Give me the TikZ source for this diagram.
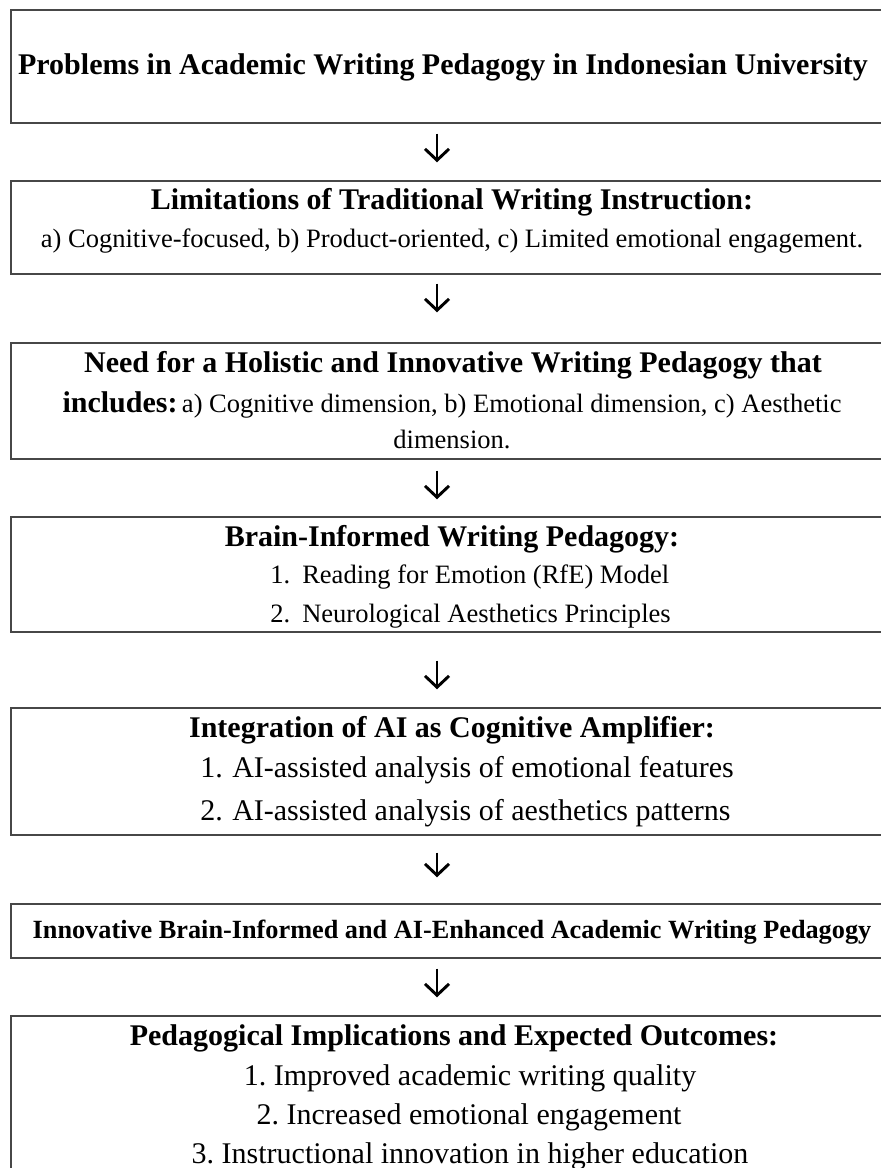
\documentclass[tikz,border=0pt]{standalone}
\usepackage{fontspec}
\setmainfont{Liberation Serif}
\usetikzlibrary{arrows.meta}
\newcommand{\bigb}{\fontsize{22.5}{27}\selectfont\bfseries}
\newcommand{\midr}{\fontsize{19.9}{24}\selectfont}
\newcommand{\larr}{\fontsize{22.5}{27}\selectfont}
\newcommand{\sixb}{\fontsize{19.7}{24}\selectfont\bfseries}
\tikzset{
  box/.style={draw=black!72, line width=1.1pt, rectangle, minimum width=663pt, inner sep=0pt},
  txt/.style={anchor=base, inner sep=0pt, text=black},
  txtl/.style={anchor=base west, inner sep=0pt, text=black},
  arr/.style={draw=black, line width=2.2pt, -{Straight Barb[length=8.5pt,width=18pt]}},
}
\begin{document}
\begin{tikzpicture}[x={(0.75pt,0)}, y={(0,-0.75pt)}]
\useasboundingbox (0,0) rectangle (881,1168);
\clip (0,0) rectangle (881,1168);
\fill[white] (0,0) rectangle (881,1168);
\coordinate (ax) at (437,0);

% boxes
\node[box, minimum height=84.75pt] (b1) at (453,66.5) {};
\node[box, minimum height=69.75pt] (b2) at (453,227.5) {};
\node[box, minimum height=87pt] (b3) at (453,401) {};
\node[box, minimum height=86.25pt] (b4) at (453,574.5) {};
\node[box, minimum height=95.25pt] (b5) at (453,771.5) {};
\node[box, minimum height=40.5pt] (b6) at (453,931) {};
\node[box, minimum height=126.75pt] (b7) at (453,1100.5) {};

% texts
\node[txt] (t1) at (443,74) {\bigb Problems in Academic Writing Pedagogy in Indonesian University};

\node[txt] (t2a) at (452,209) {\bigb Limitations of Traditional Writing Instruction:};
\node[txt] (t2b) at (452,247) {\midr a) Cognitive-focused, b) Product-oriented, c) Limited emotional engagement.};

\node[txt] (t3a) at (453,372) {\bigb Need for a Holistic and Innovative Writing Pedagogy that};
\node[txt] (t3b) at (452,412) {{\bigb includes:} {\midr a) Cognitive dimension, b) Emotional dimension, c) Aesthetic}};
\node[txt] (t3c) at (452,448) {\midr dimension.};

\node[txt] (t4a) at (452,546) {\bigb Brain-Informed Writing Pedagogy:};
\node[txtl] (t4n1) at (270,583) {\midr 1.};
\node[txtl] (t4b) at (302,583) {\midr Reading for Emotion (RfE) Model};
\node[txtl] (t4n2) at (270,622) {\midr 2.};
\node[txtl] (t4c) at (302,622) {\midr Neurological Aesthetics Principles};

\node[txt] (t5a) at (452,737) {\bigb Integration of AI as Cognitive Amplifier:};
\node[txtl] (t5n1) at (200,777) {\larr 1.};
\node[txtl] (t5b) at (232,777) {\larr AI-assisted analysis of emotional features};
\node[txtl] (t5n2) at (200,820) {\larr 2.};
\node[txtl] (t5c) at (232,820) {\larr AI-assisted analysis of aesthetics patterns};

\node[txt] (t6) at (452,938) {\sixb Innovative Brain-Informed and AI-Enhanced Academic Writing Pedagogy};

\node[txt] (t7a) at (454,1045) {\bigb Pedagogical Implications and Expected Outcomes:};
\node[txt] (t7b) at (470,1085) {\larr 1.\ Improved academic writing quality};
\node[txt] (t7c) at (469,1124) {\larr 2.\ Increased emotional engagement};
\node[txt] (t7d) at (470,1163) {\larr 3.\ Instructional innovation in higher education};

% arrows
\draw[arr, shorten <=7.5pt, shorten >=13.5pt] (b1.south -| ax) -- (b2.north -| ax);
\draw[arr, shorten <=6.75pt, shorten >=22.5pt] (b2.south -| ax) -- (b3.north -| ax);
\draw[arr, shorten <=8.25pt, shorten >=12.75pt] (b3.south -| ax) -- (b4.north -| ax);
\draw[arr, shorten <=21pt, shorten >=13.5pt] (b4.south -| ax) -- (b5.north -| ax);
\draw[arr, shorten <=12.75pt, shorten >=19.5pt] (b5.south -| ax) -- (b6.north -| ax);
\draw[arr, shorten <=7.5pt, shorten >=13.5pt] (b6.south -| ax) -- (b7.north -| ax);
\end{tikzpicture}
\end{document}
